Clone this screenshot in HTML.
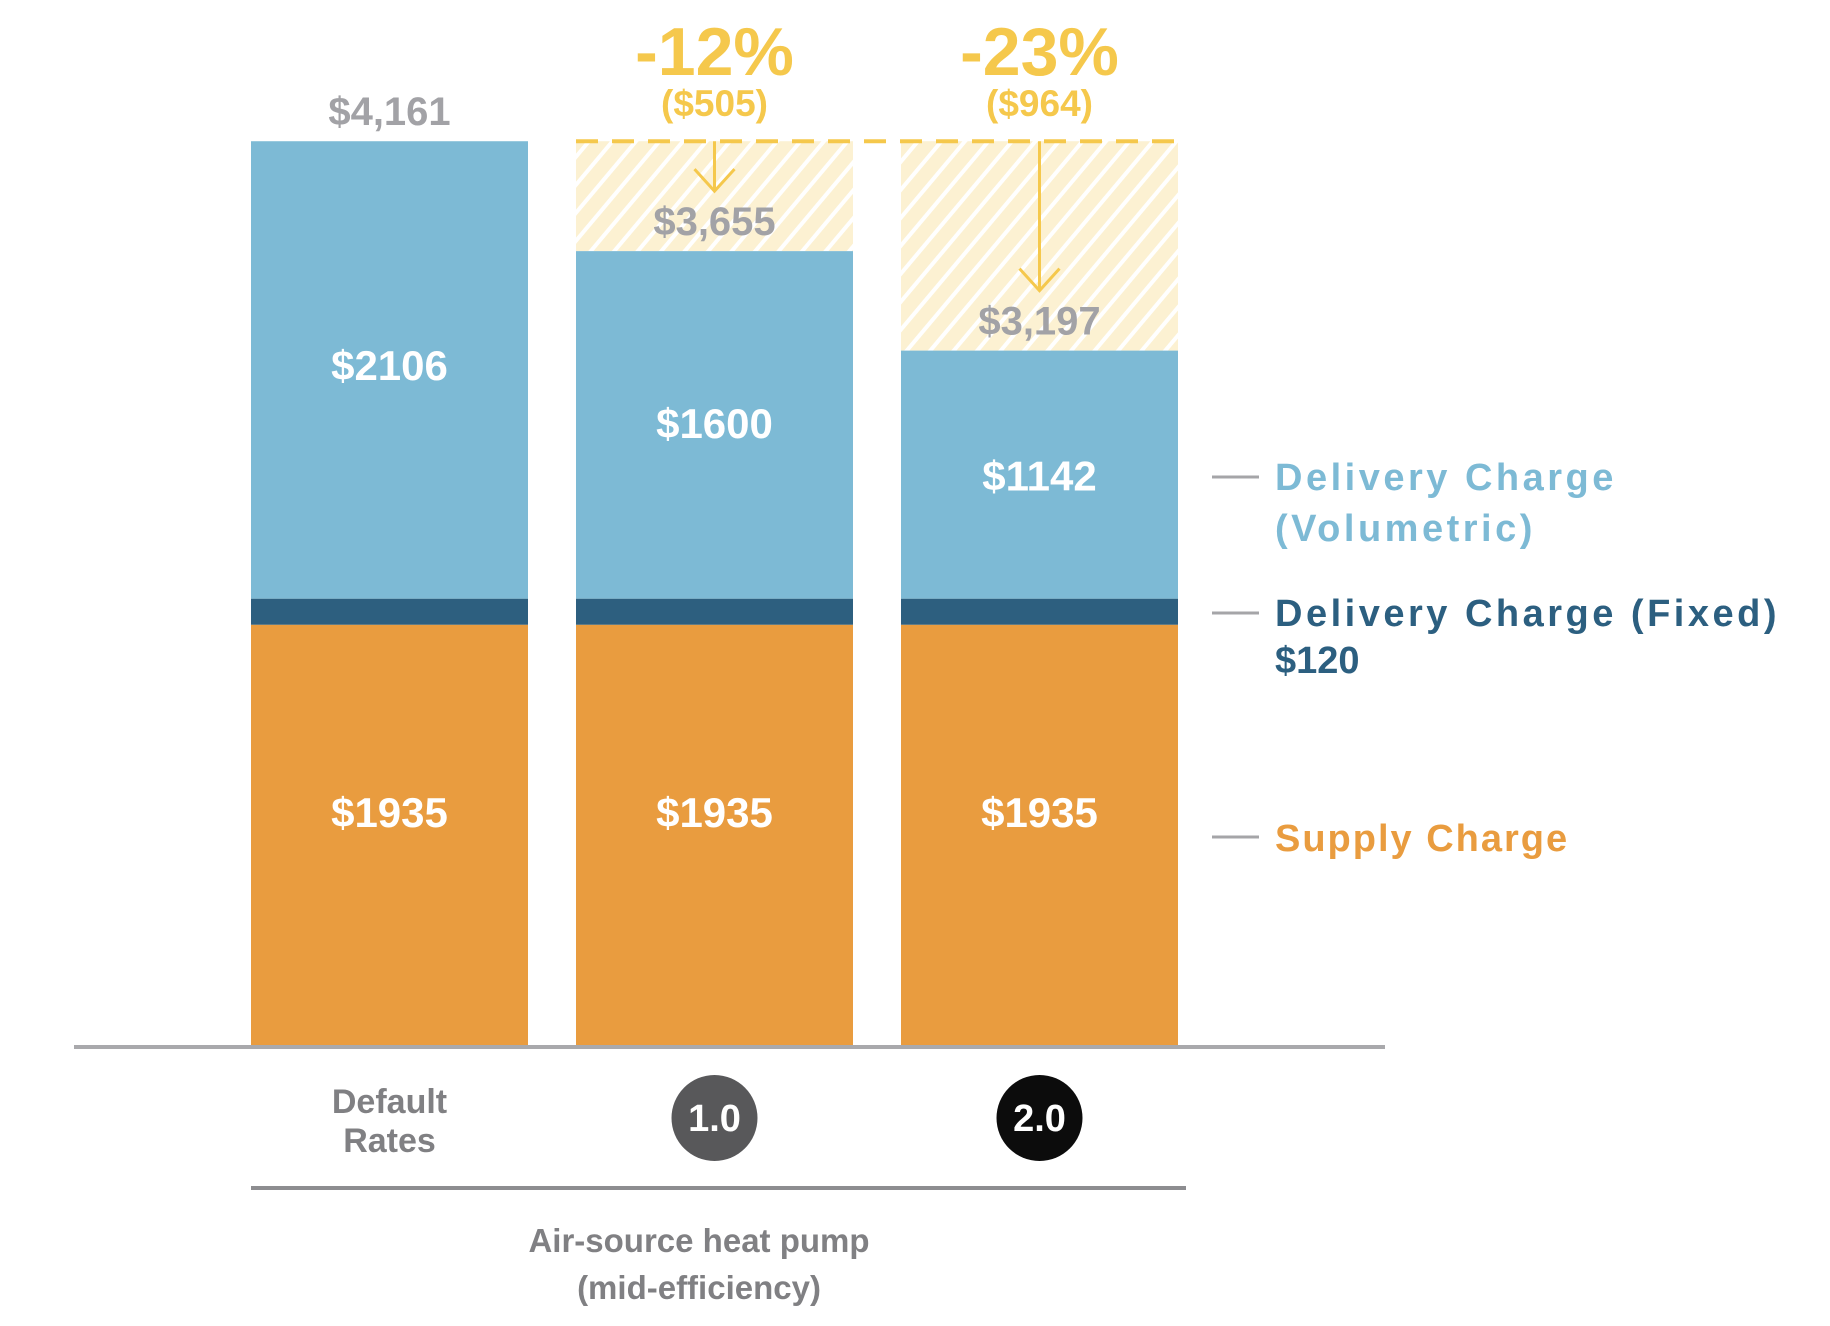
<!DOCTYPE html>
<html><head><meta charset="utf-8">
<style>
html,body{margin:0;padding:0;background:#fff;}
svg{display:block;font-family:"Liberation Sans",sans-serif;font-weight:bold;}
</style></head>
<body>
<svg id="chart" width="1830" height="1326" viewBox="0 0 1830 1326">
<defs>
<pattern id="hatch" patternUnits="userSpaceOnUse" width="18" height="18" patternTransform="rotate(40)">
<rect width="18" height="18" fill="#fcf1d2"/>
<rect x="0" y="0" width="4" height="18" fill="#ffffff"/>
</pattern>
</defs>
<g id="marks"></g>
<g>
<line x1="1212" y1="477" x2="1259" y2="477" stroke="#a5a5a8" stroke-width="3"/>
<text x="1275" y="490" font-size="38" fill="#7dbad5" letter-spacing="3.5">Delivery Charge</text>
<text x="1275" y="541" font-size="38" fill="#7dbad5" letter-spacing="3.5">(Volumetric)</text>
<line x1="1212" y1="613" x2="1259" y2="613" stroke="#a5a5a8" stroke-width="3"/>
<text x="1275" y="626" font-size="38" fill="#2c5f80" letter-spacing="3.5">Delivery Charge (Fixed)</text>
<text x="1275" y="673" font-size="38" fill="#2c5f80">$120</text>
<line x1="1212" y1="837" x2="1259" y2="837" stroke="#a5a5a8" stroke-width="3"/>
<text x="1275" y="851" font-size="38" fill="#e99c3f" letter-spacing="2">Supply Charge</text>
</g>
<line x1="74" y1="1047" x2="1385" y2="1047" stroke="#a9a9ac" stroke-width="4"/>
<line x1="251" y1="1188" x2="1186" y2="1188" stroke="#8d8d90" stroke-width="4"/>
<text x="699" y="1252" font-size="33" fill="#808083" text-anchor="middle">Air-source heat pump</text>
<text x="699" y="1299" font-size="33" fill="#808083" text-anchor="middle">(mid-efficiency)</text>
</svg>
<script>
const categories = ["Default Rates", "1.0", "2.0"];
const supply = [1935, 1935, 1935];
const fixed = [120, 120, 120];
const volumetric = [2106, 1600, 1142];
const totals = ["$4,161", "$3,655", "$3,197"];
const savingsPct = ["", "-12%", "-23%"];
const savingsAmt = ["", ("($505)"), "($964)"];

const NS = "http://www.w3.org/2000/svg";
const g = document.getElementById("marks");
const baseY = 1045, pxPerDollar = 0.2172;
const barW = 277;
function xPos(i){ return 251 + i * 325; }
function yPos(v){ return baseY - v * pxPerDollar; }
function mk(tag, attrs, parent){
  const e = document.createElementNS(NS, tag);
  for (const k in attrs) e.setAttribute(k, attrs[k]);
  (parent || g).appendChild(e);
  return e;
}
function txt(x, y, s, size, fill, content){
  const t = mk("text", {x:x, y:y, "font-size":size, fill:fill, "text-anchor":"middle"});
  t.textContent = content;
  return t;
}
const refTotal = supply[0] + fixed[0] + volumetric[0];
const refY = yPos(refTotal);

categories.forEach((c, i) => {
  const x = xPos(i), cx = x + barW/2;
  const total = supply[i] + fixed[i] + volumetric[i];
  if (i > 0) {
    const h = mk("rect", {x:x, y:refY, width:barW, height:yPos(total)-refY, fill:"url(#hatch)"});
    
    
  }
  const so = mk("rect", {x:x, y:yPos(supply[i]), width:barW, height:baseY-yPos(supply[i]), fill:"#e99c3f"});
  
  
  const fx = mk("rect", {x:x, y:yPos(supply[i]+fixed[i]), width:barW, height:fixed[i]*pxPerDollar, fill:"#2d5f7f"});
  
  
  const vo = mk("rect", {x:x, y:yPos(total), width:barW, height:volumetric[i]*pxPerDollar, fill:"#7dbad5"});
  
  

  const sl = txt(cx, (yPos(supply[i]) + baseY)/2 - 8, 0, 42, "#ffffff", "$" + supply[i]);
  
  
  const vl = txt(cx, (yPos(total) + yPos(supply[i]+fixed[i]))/2 + 10 + i * 3, 0, 42, "#ffffff", "$" + volumetric[i]);
  
  

  const tl = txt(cx, yPos(total) - 16, 0, 40, "#a2a2a6", totals[i]);
  
  

  if (i > 0) {
    const ay = yPos(total) - 60;
    const ar = mk("path", {d:`M${cx} ${refY} L${cx} ${ay} M${cx-20} ${ay-22} L${cx} ${ay} L${cx+20} ${ay-22}`, stroke:"#f5c84c", "stroke-width":3, fill:"none"});
    
    
    const p = txt(cx, 75, 0, 68, "#f5c84c", savingsPct[i]);
    
    
    const a = txt(cx, 116, 0, 37, "#f5c84c", savingsAmt[i]);
    
    
    const circ = mk("circle", {cx:cx, cy:1118, r:43, fill: i === 1 ? "#58585a" : "#0c0c0c"});
    
    
    const ct = txt(cx, 1131, 0, 38, "#ffffff", categories[i]);
    
    
  } else {
    const c1 = txt(cx, 1113, 0, 34, "#808083", "Default");
    
    
    const c2 = txt(cx, 1152, 0, 34, "#808083", "Rates");
    
    
  }
});
const dl = mk("line", {x1:xPos(1), y1:refY, x2:xPos(2)+barW, y2:refY, stroke:"#f5c84c", "stroke-width":4, "stroke-dasharray":"22 14"});


</script>
</body></html>
